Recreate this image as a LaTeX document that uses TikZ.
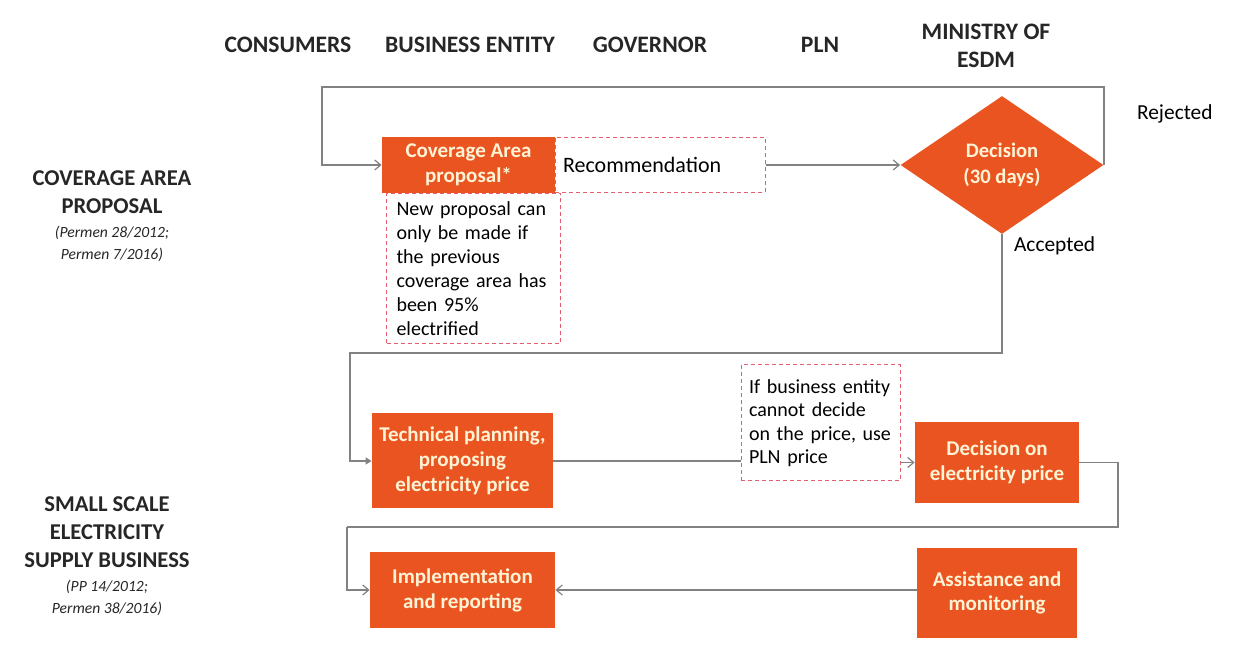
\documentclass[tikz,border=0pt]{standalone}
\usepackage{fontspec}
\setmainfont{Carlito}
\usetikzlibrary{arrows.meta,shapes.geometric}
\definecolor{orng}{RGB}{234,84,32}
\definecolor{cream}{RGB}{255,243,214}
\definecolor{lgray}{RGB}{130,130,130}
\definecolor{dashred}{RGB}{225,95,110}
\newcommand\subtxt{\fontsize{7.8}{10}\selectfont\mdseries\itshape}
\begin{document}
\begin{tikzpicture}[x=0.5pt,y=-0.5pt,
  obox/.style={fill=orng,draw=none,text=cream,font=\fontsize{10.5}{12.4}\selectfont\bfseries,align=center,inner sep=0pt},
  dbox/.style={draw=dashred,line width=0.5pt,dash pattern=on 2pt off 1.5pt,font=\fontsize{10}{12}\selectfont,align=left,inner sep=0pt},
  head/.style={font=\fontsize{11.8}{14}\selectfont\bfseries,align=center,text=black!85},
  lane/.style={font=\fontsize{11.3}{14}\selectfont\bfseries,align=center,text=black!85},
  lbl/.style={font=\fontsize{10.7}{12}\selectfont},
  conn/.style={draw=lgray,line width=0.6pt},
  arr/.style={conn,-{Straight Barb[length=3pt,width=5pt]}}]
\useasboundingbox (0,0) rectangle (1259,646);
% headers
\node[head] (h1) at (288,45) {CONSUMERS};
\node[head] (h2) at (470,45) {BUSINESS ENTITY};
\node[head] (h3) at (650,45) {GOVERNOR};
\node[head] (h4) at (820,45) {PLN};
\node[head] (h5) at (986,46) {MINISTRY OF\\ESDM};
% lane labels
\node[lane] (l1) at (112,216) {COVERAGE AREA\\PROPOSAL\\[-2pt]{\subtxt (Permen 28/2012;}\\[-3pt]{\subtxt Permen 7/2016)}};
\node[lane] (l2) at (107,556) {SMALL SCALE\\ELECTRICITY\\SUPPLY BUSINESS\\[-2pt]{\subtxt (PP 14/2012;}\\[-3pt]{\subtxt Permen 38/2016)}};
% top row
\node[dbox,minimum width=105pt,minimum height=27.5pt,text width=97pt,inner xsep=4pt,font=\fontsize{11}{12}\selectfont] (rec) at (660,165) {Recommendation};
\node[dbox,minimum width=85.5pt,minimum height=75pt,text width=77pt,inner xsep=5pt,inner ysep=3pt,anchor=north west] (note1) at (386,193) {New proposal can\\only be made if\\the previous\\coverage area has\\been 95\%\\electrified};
\node[obox,minimum width=86.5pt,minimum height=28pt] (cov) at (468.5,165) {Coverage Area\\proposal*};
\node[diamond,fill=orng,text=cream,font=\fontsize{10.3}{12.8}\selectfont\bfseries,align=center,minimum width=101.5pt,minimum height=69pt,inner sep=0pt] (dec) at (1002,165) {Decision\\(30 days)};
\node[lbl,anchor=west] (rej) at (1130,114) {Rejected};
\node[lbl,anchor=west] (acc) at (1007,246) {Accepted};
% bottom rows
\node[obox,minimum width=90.5pt,minimum height=47.5pt] (tech) at (462.5,461) {Technical planning,\\proposing\\electricity price};
\node[dbox,minimum width=79.5pt,minimum height=58pt,text width=71.5pt,inner xsep=4pt,font=\fontsize{10}{11.7}\selectfont] (note2) at (820.5,423) {If business entity\\cannot decide\\on the price, use\\PLN price};
\node[obox,minimum width=82pt,minimum height=40.5pt] (dpr) at (997,462.5) {Decision on\\electricity price};
\node[obox,minimum width=92.5pt,minimum height=38pt] (impl) at (462.5,590) {Implementation\\and reporting};
\node[obox,minimum width=80pt,minimum height=45pt] (asst) at (997,593) {Assistance and\\monitoring};
% connector corners
\coordinate (c1) at (322,87);
\coordinate (c2) at (350,353);
\coordinate (c3) at (1118,527);
\coordinate (c4) at (347,527);
% connectors
\draw[arr] (dec.east) |- (c1) |- (cov.west);
\draw[arr] (rec.east) -- (dec.west);
\draw[conn,-{Triangle[length=3pt,width=3.5pt]}] (dec.south) |- (c2) |- (tech.west);
\draw[conn] (tech.east) -- (tech.east -| note2.west);
\draw[arr] (note2.east |- dpr.west) -- (dpr.west);
\draw[conn] (dpr.east) -| (c3) -- (c4);
\draw[arr] (c4) |- (impl.west);
\draw[arr] (asst.west |- impl.east) -- (impl.east);
\end{tikzpicture}
\end{document}
